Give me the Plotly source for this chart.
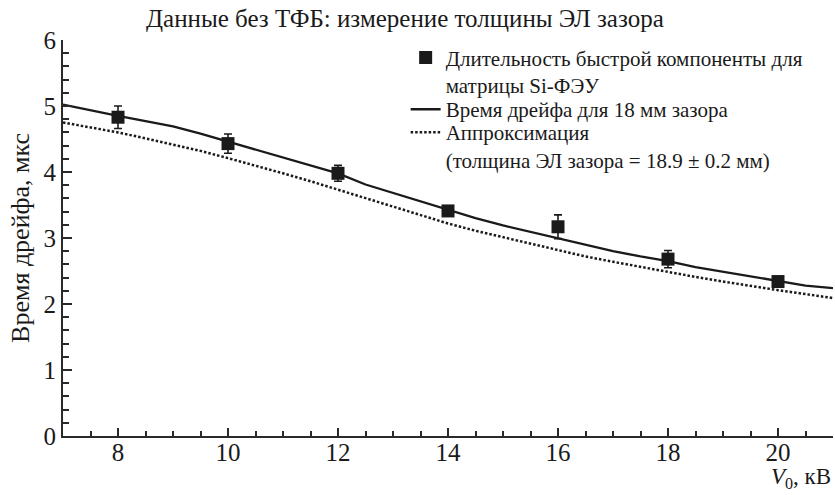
import plotly.graph_objects as go

# ---- data ----
voltage_kv = [8, 10, 12, 14, 16, 18, 20]
fast_component_us = [4.83, 4.43, 3.98, 3.41, 3.17, 2.68, 2.34]
fast_component_err = [0.17, 0.145, 0.12, 0.07, 0.18, 0.13, 0.08]

curve_kv = [7, 7.5, 8, 8.5, 9, 9.5, 10, 10.5, 11, 11.5, 12, 12.5, 13, 13.5, 14,
            14.5, 15, 15.5, 16, 16.5, 17, 17.5, 18, 18.5, 19, 19.5, 20, 20.5, 21]
drift_18mm_us = [5.02, 4.93, 4.85, 4.77, 4.69, 4.58, 4.46, 4.35, 4.23, 4.10, 3.98,
                 3.81, 3.68, 3.56, 3.43, 3.30, 3.19, 3.09, 3.00, 2.90, 2.80, 2.72,
                 2.65, 2.56, 2.49, 2.41, 2.34, 2.28, 2.24]
fit_us = [4.75, 4.68, 4.60, 4.51, 4.42, 4.32, 4.21, 4.10, 3.98, 3.86, 3.73, 3.60,
          3.47, 3.34, 3.22, 3.11, 3.01, 2.91, 2.82, 2.72, 2.64, 2.56, 2.48, 2.41,
          2.34, 2.27, 2.21, 2.15, 2.09]

names = [
    "Длительность быстрой компоненты для<br>матрицы Si-ФЭУ",
    "Время дрейфа для 18 мм зазора",
    "Аппроксимация<br>(толщина ЭЛ зазора = 18.9 ± 0.2 мм)",
]
title_text = "Данные без ТФБ: измерение толщины ЭЛ зазора"
y_title = "Время дрейфа, мкс"
x_title = "<i>V</i><sub>0</sub>, кВ"

FONT = "Liberation Serif"
INK = "#1a1a1a"
AX = "#2a2a2a"

fig = go.Figure()
fig.add_trace(go.Scatter(
    x=curve_kv, y=fit_us, mode="lines", name=names[2], legend="legend3",
    line=dict(color=INK, width=2.5, dash="2.5px,2px"),
))
fig.add_trace(go.Scatter(
    x=curve_kv, y=drift_18mm_us, mode="lines", name=names[1], legend="legend2",
    line=dict(color=INK, width=2.3),
))
fig.add_trace(go.Scatter(
    x=voltage_kv, y=fast_component_us, mode="markers", name=names[0], legend="legend",
    marker=dict(symbol="square", size=13, color=INK),
    error_y=dict(type="data", array=fast_component_err, visible=True,
                 color=INK, thickness=1.6, width=4),
))

leg_common = dict(x=0.445, xanchor="left", yanchor="top", bgcolor="rgba(0,0,0,0)",
                  font=dict(family=FONT, size=21, color=INK), valign="top")

fig.update_layout(
    width=835, height=495,
    margin=dict(l=63, r=2, t=40, b=59),
    paper_bgcolor="white", plot_bgcolor="white",
    font=dict(family=FONT, color=INK, size=22),
    title=dict(text=title_text, font=dict(family=FONT, size=25, color=INK),
               xref="paper", x=0.444, xanchor="center",
               yref="container", y=0.964, yanchor="middle"),
    showlegend=True,
    legend=dict(y=1.007, **leg_common),
    legend2=dict(y=0.876, **leg_common),
    legend3=dict(y=0.818, **leg_common),
    xaxis=dict(range=[7, 21], dtick=2, tick0=0, showgrid=False, zeroline=False,
               showline=True, linecolor=AX, linewidth=2,
               ticks="inside", ticklen=8, tickwidth=1.6, tickcolor=AX,
               minor=dict(dtick=0.5, ticks="inside", ticklen=5, tickwidth=1.6,
                          tickcolor=AX, showgrid=False),
               tickfont=dict(family=FONT, size=25, color=INK),
               ticklabelstandoff=-7),
    yaxis=dict(range=[0, 6], dtick=1, tick0=0, showgrid=False, zeroline=False,
               showline=True, linecolor=AX, linewidth=2,
               ticks="inside", ticklen=9, tickwidth=1.6, tickcolor=AX,
               minor=dict(dtick=0.2, ticks="inside", ticklen=6, tickwidth=1.6,
                          tickcolor=AX, showgrid=False),
               tickfont=dict(family=FONT, size=25, color=INK),
               title=dict(text=y_title, font=dict(family=FONT, size=26, color=INK),
                          standoff=6)),
    annotations=[dict(text=x_title, xref="paper", yref="paper", x=1.0, y=-0.146,
                      xanchor="right", yanchor="bottom", showarrow=False,
                      font=dict(family=FONT, size=23, color=INK))],
)

fig.write_html("out.html")
